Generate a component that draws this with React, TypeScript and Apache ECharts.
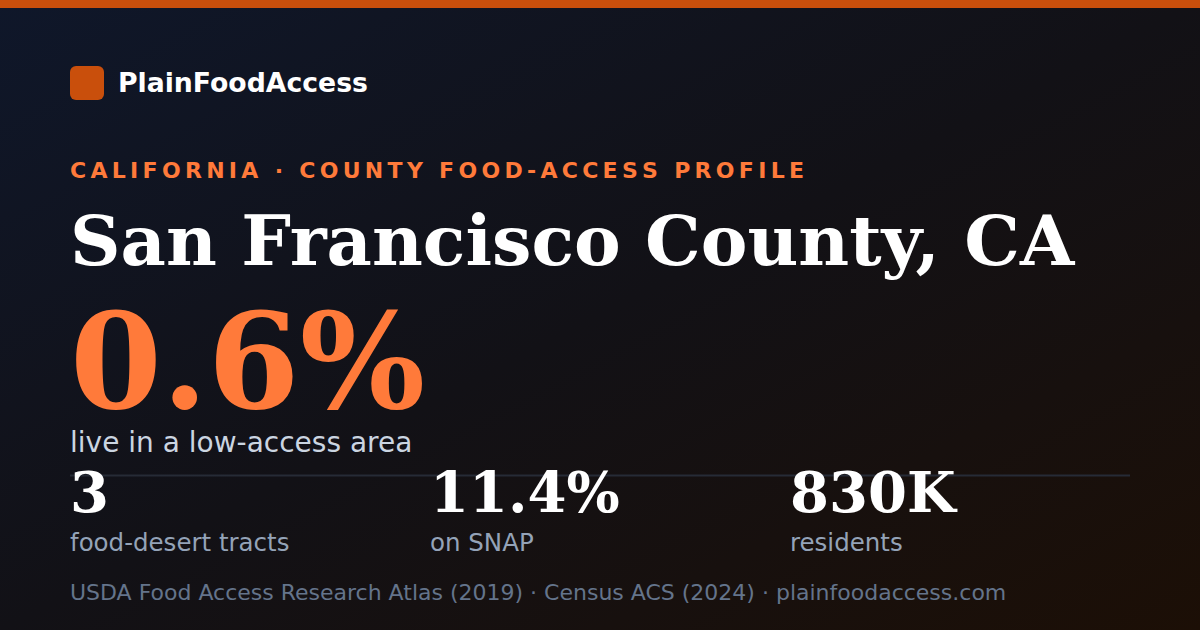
import React, { useEffect, useRef } from "react";
import * as echarts from "echarts";

const brand = "PlainFoodAccess";
const kicker = "CALIFORNIA · COUNTY FOOD-ACCESS PROFILE";
const county = "San Francisco County, CA";
const headlineValue = "0.6%";
const headlineLabel = "live in a low-access area";
const statValues = ["3", "11.4%", "830K"];
const statLabels = ["food-desert tracts", "on SNAP", "residents"];
const footer = "USDA Food Access Research Atlas (2019) · Census ACS (2024) · plainfoodaccess.com";

const W = 1200;
const H = 630;
const SANS = "'DejaVu Sans', sans-serif";
const SERIF = "'DejaVu Serif', serif";

function measure(text: string, font: string): number {
  const c = document.createElement("canvas");
  const ctx = c.getContext("2d")!;
  ctx.font = font;
  return ctx.measureText(text).width;
}

// text placed by its alphabetic baseline (approx. via central alignment)
function txt(text: string, x: number, baseline: number, size: number, family: string, weight: string, fill: string) {
  return {
    type: "text",
    x,
    y: baseline - size * 0.35,
    style: {
      text,
      fontSize: size,
      fontFamily: family,
      fontWeight: weight,
      fill,
      align: "left",
      verticalAlign: "middle",
    },
  };
}

function spaced(text: string, x: number, baseline: number, size: number, family: string, weight: string, fill: string, spacing: number) {
  const font = `${weight} ${size}px ${family}`;
  const out: any[] = [];
  let cx = x;
  for (const ch of text) {
    out.push(txt(ch, cx, baseline, size, family, weight, fill));
    cx += measure(ch, font) + spacing;
  }
  return out;
}

export default function App() {
  const ref = useRef<HTMLDivElement>(null);
  useEffect(() => {
    document.body.style.margin = "0";
    const chart = echarts.init(ref.current!, null, { renderer: "svg", width: W, height: H });
    const elements: any[] = [
      {
        type: "rect",
        shape: { x: 0, y: 0, width: W, height: H },
        style: {
          fill: new echarts.graphic.LinearGradient(0, 0, 1, 1, [
            { offset: 0, color: "#0f172a" },
            { offset: 0.5, color: "#121116" },
            { offset: 1, color: "#1c0f06" },
          ]),
        },
      },
      { type: "rect", shape: { x: 0, y: 0, width: W, height: 8 }, style: { fill: "#c94f0c" } },
      { type: "rect", shape: { x: 70, y: 66, width: 34, height: 34, r: 6 }, style: { fill: "#c94f0c" } },
      txt(brand, 118, 92, 26.7, SANS, "bold", "#ffffff"),
      ...spaced(kicker, 70, 178, 22, SANS, "bold", "#ff7a3a", 4.3),
      txt(county, 70, 265, 70, SERIF, "bold", "#ffffff"),
      txt(headlineValue, 70, 408, 132, SERIF, "bold", "#ff7a3a"),
      txt(headlineLabel, 70, 452, 28, SANS, "normal", "#cbd5e1"),
      { type: "line", shape: { x1: 70, y1: 475.5, x2: 1130, y2: 475.5 }, style: { stroke: "#262b36", lineWidth: 2 } },
    ];
    statValues.forEach((v, i) => {
      elements.push(txt(v, 70 + i * 360, 512, 56, SERIF, "bold", "#ffffff"));
      elements.push(txt(statLabels[i], 70 + i * 360, 551, 24.5, SANS, "normal", "#94a3b8"));
    });
    elements.push(txt(footer, 70, 600, 22, SANS, "normal", "#64748b"));
    chart.setOption({ animation: false, graphic: { elements } });
    return () => chart.dispose();
  }, []);
  return <div ref={ref} style={{ width: W, height: H }} />;
}
